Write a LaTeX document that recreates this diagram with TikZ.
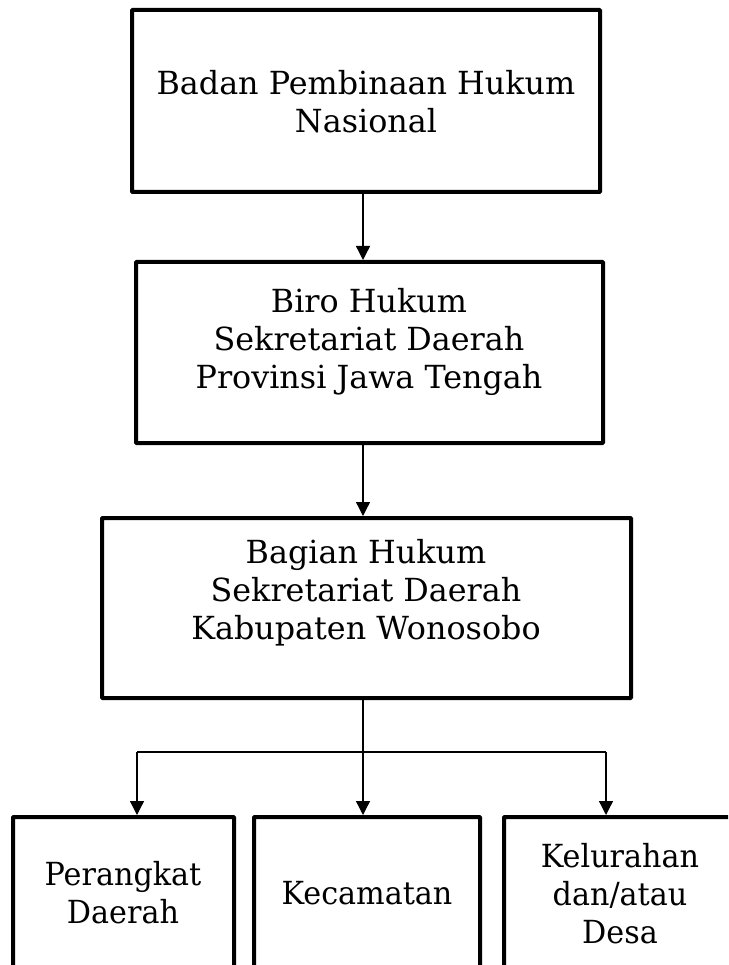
\documentclass[tikz,border=0pt]{standalone}
\usepackage{fontspec}
\setmainfont{DejaVu Serif}
\newfontfamily\condfont[FakeStretch=0.95]{DejaVu Serif}
\usetikzlibrary{arrows.meta}
\tikzset{
  boxnode/.style={draw, line width=4pt, rectangle, inner sep=0pt, rounded corners=0.8pt},
  txt/.style={align=center, inner sep=0pt, font=\fontsize{31.8}{38}\selectfont},
  ctxt/.style={align=center, inner sep=0pt, font=\condfont\fontsize{31.8}{38}\selectfont},
  arr/.style={line width=1.3pt, -{Triangle[width=14pt,length=14pt]}},
  conn/.style={line width=1.3pt}
}
\begin{document}
\begin{tikzpicture}[x=1pt,y=-1pt]
\useasboundingbox (0,0) rectangle (728,965);
\clip (0,0) rectangle (728,965);
% boxes
\node[boxnode, minimum width=468pt, minimum height=182pt] (b1) at (366,101) {};
\node[boxnode, minimum width=467pt, minimum height=181pt] (b2) at (369.5,352.5) {};
\node[boxnode, minimum width=529pt, minimum height=180pt] (b3) at (366.5,608) {};
\node[boxnode, minimum width=221pt, minimum height=190pt] (bA) at (123.5,912) {};
\node[boxnode, minimum width=226pt, minimum height=190pt] (bB) at (367,912) {};
\node[boxnode, minimum width=232pt, minimum height=190pt] (bC) at (620,912) {};
% texts
\node[txt] (t1) at (366,102) {Badan Pembinaan Hukum\\Nasional};
\node[txt] (t2) at (369,342) {Biro Hukum\\Sekretariat Daerah\\Provinsi Jawa Tengah};
\node[txt] (t3) at (366,593) {Bagian Hukum\\Sekretariat Daerah\\Kabupaten Wonosobo};
\node[ctxt] (tA) at (123,893) {Perangkat\\Daerah};
\node[ctxt] (tB) at (367,893) {Kecamatan};
\node[ctxt] (tC) at (620,894) {Kelurahan\\dan/atau\\Desa};
% connectors
\coordinate (j) at (363,752);
\coordinate (jl) at (137,752);
\coordinate (jr) at (606,752);
\draw[arr] (b1.south -| j) -- (b2.north -| j);
\draw[arr] (b2.south -| j) -- (b3.north -| j);
\draw[arr] (b3.south -| j) -- (bB.north -| j);
\draw[conn] (jl) -- (jr);
\draw[arr] (jl) -- (bA.north -| jl);
\draw[arr] (jr) -- (bC.north -| jr);
\end{tikzpicture}
\end{document}
